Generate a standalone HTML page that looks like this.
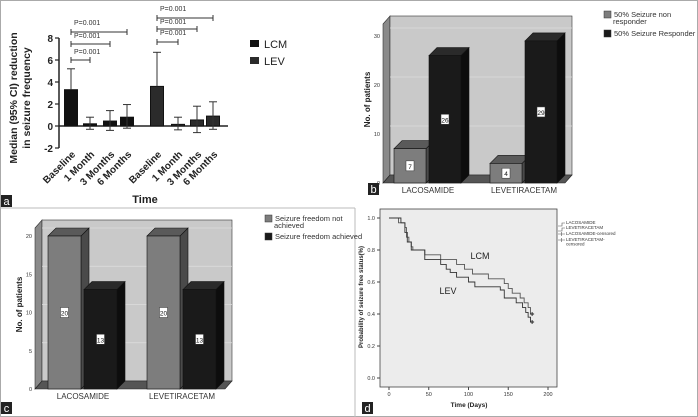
<!DOCTYPE html>
<html><head><meta charset="utf-8"><style>
body{margin:0;background:#fff}
svg{display:block;font-family:"Liberation Sans",sans-serif}
</style></head><body>
<svg id="fig" width="698" height="417" viewBox="0 0 698 417"></svg>
<script>
// Panel a data
const aCats=["Baseline","1 Month","3 Months","6 Months"];
const aLCM=[3.3,0.2,0.45,0.8];
const aLCMhi=[5.2,0.8,1.4,1.95];
const aLCMlo=[3.3,-0.3,-0.4,-0.2];
const aLEV=[3.6,0.15,0.55,0.9];
const aLEVhi=[6.7,0.8,1.8,2.2];
const aLEVlo=[3.6,-0.35,-0.6,-0.3];
const aTicks=[-2,0,2,4,6,8];
// Panel b data
const bCats=["LACOSAMIDE","LEVETIRACETAM"];
const bNon=[7,4];
const bResp=[26,29];
const bTicks=[0,10,20,30];
// Panel c data
const cCats=["LACOSAMIDE","LEVETIRACETAM"];
const cNot=[20,20];
const cAch=[13,13];
const cTicks=[0,5,10,15,20];
// Panel d data
const dLCMt=[0,12,20,22,25,28,30,45,65,85,95,105,125,145,150,155,165,170,175,178];
const dLCMv=[1.0,0.97,0.94,0.88,0.85,0.82,0.80,0.77,0.74,0.71,0.68,0.65,0.62,0.59,0.56,0.53,0.50,0.47,0.44,0.40];
const dLEVt=[0,15,20,23,28,45,65,72,77,85,100,108,140,145,160,168,172,175,178];
const dLEVv=[1.0,0.97,0.91,0.85,0.80,0.74,0.71,0.68,0.66,0.63,0.60,0.57,0.55,0.50,0.47,0.44,0.41,0.38,0.35];
const dXTicks=[0,50,100,150,200];
const dYTicks=[0.0,0.2,0.4,0.6,0.8,1.0];

const NS="http://www.w3.org/2000/svg";
const svg=document.getElementById('fig');
function mk(tag,attrs,parent,text){const e=document.createElementNS(NS,tag);for(const k in attrs)e.setAttribute(k,attrs[k]);if(text!==undefined)e.textContent=text;(parent||svg).appendChild(e);return e;}

let fr=mk('rect',{x:0.5,y:0.5,width:697,height:416,fill:'none',stroke:'#aaa'});


let hl=mk('line',{x1:0,y1:208,x2:355,y2:208,stroke:'#bbb'});


let vl=mk('line',{x1:355,y1:208,x2:355,y2:417,stroke:'#bbb'});



function panelLabel(x,y,t){
  const g=mk('g',{});
  
  
  mk('rect',{x:x,y:y,width:11,height:12,fill:'#222'},g);
  mk('text',{x:x+5.5,y:y+10,'font-size':11,fill:'#fff','text-anchor':'middle'},g,t);
}

// ===== Panel a =====
(function(){
  const g=mk('g',{});
  
  
  const y=v=>126-v*11;
  const x0=59;
  mk('line',{x1:x0,y1:y(-2),x2:x0,y2:y(8),stroke:'#222','stroke-width':1.5},g);
  mk('line',{x1:x0,y1:y(0),x2:228,y2:y(0),stroke:'#222','stroke-width':1.5},g);
  aTicks.forEach(t=>{
    mk('line',{x1:x0-4,y1:y(t),x2:x0,y2:y(t),stroke:'#222','stroke-width':1.2},g);
    const tx=mk('text',{x:x0-6,y:y(t)+4,'font-size':10,'font-weight':'bold','text-anchor':'end',fill:'#222'},g,t);
    
    
  });
  const xs1=[71,90,110,127], xs2=[157,178,197,213];
  function series(xs,vals,hi,lo,col,nm){
    xs.forEach((cx,i)=>{
      const top=y(Math.max(vals[i],0)),bot=y(Math.min(vals[i],0));
      const b=mk('rect',{x:cx-6.5,y:top,width:13,height:Math.max(bot-top,1.5),fill:col,stroke:'#111','stroke-width':1},g);
      
      
      mk('line',{x1:cx,y1:y(hi[i]),x2:cx,y2:y(lo[i]),stroke:'#333','stroke-width':1},g);
      mk('line',{x1:cx-4,y1:y(hi[i]),x2:cx+4,y2:y(hi[i]),stroke:'#333','stroke-width':1},g);
      if(lo[i]<vals[i]) mk('line',{x1:cx-4,y1:y(lo[i]),x2:cx+4,y2:y(lo[i]),stroke:'#333','stroke-width':1},g);
      const l=mk('text',{x:0,y:0,'font-size':10,'font-weight':'bold','text-anchor':'end',fill:'#222',transform:`translate(${cx+5},${155}) rotate(-45)`},g,aCats[i]);
      
      
    });
  }
  series(xs1,aLCM,aLCMhi,aLCMlo,'#111','lcm');
  series(xs2,aLEV,aLEVhi,aLEVlo,'#2b2b2b','lev');
  const br=[[xs1[0],xs1[1],60,51],[xs1[0],xs1[2],44,35],[xs1[0],xs1[3],32,22],[xs2[0],xs2[1],42,32],[xs2[0],xs2[2],29,21],[xs2[0],xs2[3],18,8]];
  br.forEach(b=>{
    const bg=mk('g',{},g);
    
    
    mk('path',{d:`M${b[0]},${b[2]-3}V${b[2]+3}M${b[0]},${b[2]}H${b[1]}M${b[1]},${b[2]-3}V${b[2]+3}`,stroke:'#333',fill:'none'},bg);
    mk('text',{x:b[0]+3,y:b[3]+3,'font-size':7,fill:'#333'},bg,'P=0.001');
  });
  const yt=mk('text',{x:0,y:0,'font-size':10.5,'font-weight':'bold','text-anchor':'middle',fill:'#222',transform:'translate(17,98) rotate(-90)'},g);
  
  
  mk('tspan',{x:0,dy:0},yt,'Median (95% CI) reduction');
  mk('tspan',{x:0,dy:13},yt,'in seizure frequency');
  const xt=mk('text',{x:145,y:203,'font-size':11,'font-weight':'bold','text-anchor':'middle',fill:'#222'},g,'Time');
  
  
  [['LCM',44,'#111'],['LEV',61,'#2b2b2b']].forEach(l=>{
    const lg=mk('g',{},g);
    
    
    mk('rect',{x:250,y:l[1]-4,width:9,height:7,fill:l[2]},lg);
    mk('text',{x:264,y:l[1]+4,'font-size':11,fill:'#222'},lg,l[0]);
  });
})();
panelLabel(1,195,'a');

// ===== 3D bar panels =====
function bar3d(g,x,w,top,bot,col,topcol,sidecol,label,nm){
  const d=8;
  const bg=mk('g',{},g);
  
  
  mk('polygon',{points:`${x+w},${top} ${x+w+d},${top-d} ${x+w+d},${bot-d} ${x+w},${bot}`,fill:sidecol,stroke:'#111','stroke-width':0.6},bg);
  mk('polygon',{points:`${x},${top} ${x+d},${top-d} ${x+w+d},${top-d} ${x+w},${top}`,fill:topcol,stroke:'#111','stroke-width':0.6},bg);
  mk('rect',{x:x,y:top,width:w,height:bot-top,fill:col,stroke:'#111','stroke-width':0.6},bg);
  const cy=(top+bot)/2;
  mk('rect',{x:x+w/2-4,y:cy-5,width:8,height:10,fill:'#fff',stroke:'#333','stroke-width':0.5},bg);
  mk('text',{x:x+w/2,y:cy+3,'font-size':6.5,'text-anchor':'middle',fill:'#111'},bg,label);
}
function panel3d(o){
  const g=mk('g',{});
  
  
  const y=v=>o.y0-v*o.k;
  mk('polygon',{points:`${o.wx-7},${o.wt+8} ${o.wx},${o.wt} ${o.wx},${o.y0-8} ${o.wx-7},${o.y0}`,fill:'#8a8a8a',stroke:'#333','stroke-width':0.6},g);
  const wall=mk('rect',{x:o.wx,y:o.wt,width:o.wr-o.wx,height:o.y0-8-o.wt,fill:'#c9c9c9',stroke:'#333','stroke-width':0.6},g);
  
  
  o.ticks.forEach(t=>{
    if(t>0) mk('line',{x1:o.wx,y1:y(t)-8,x2:o.wr,y2:y(t)-8,stroke:'#ddd','stroke-width':0.8},g);
    const tl=mk('text',{x:o.wx-10,y:y(t)+2,'font-size':5.5,'text-anchor':'end',fill:'#333'},g,t);
    
    
  });
  mk('polygon',{points:`${o.wx-7},${o.y0} ${o.wx},${o.y0-8} ${o.wr},${o.y0-8} ${o.wr-7},${o.y0}`,fill:'#555',stroke:'#222','stroke-width':0.6},g);
  o.cats.forEach((c,i)=>{
    bar3d(g,o.bx[i],o.bw,y(o.s1[i]),o.y0,'#7d7d7d','#5a5a5a','#4a4a4a',o.s1[i],'bar-'+o.n1+'-'+i);
    bar3d(g,o.bx[i]+o.bw+3,o.bw,y(o.s2[i]),o.y0,'#1a1a1a','#2a2a2a','#0d0d0d',o.s2[i],'bar-'+o.n2+'-'+i);
    const cl=mk('text',{x:o.bx[i]+o.bw+2,y:o.y0+10,'font-size':8,'text-anchor':'middle',fill:'#333'},g,c);
    
    
  });
  const yt=mk('text',{x:0,y:0,'font-size':8,'font-weight':'bold','text-anchor':'middle',fill:'#222',transform:`translate(${o.wx-20},${(o.wt+o.y0)/2}) rotate(-90)`},g,'No. of patients');
  
  
  o.legend.forEach((l,i)=>{
    const lg=mk('g',{},g);
    
    
    mk('rect',{x:o.lx,y:o.ly[i]-5,width:7,height:7,fill:i?'#1a1a1a':'#7d7d7d',stroke:'#333','stroke-width':0.5},lg);
    const t=mk('text',{x:o.lx+10,y:o.ly[i]+1,'font-size':7.5,fill:'#333'},lg);
    l.forEach((s,j)=>mk('tspan',{x:o.lx+10+(j?-1:0),dy:j?7:0},t,s));
  });
}
panel3d({name:'panel-b-responder-chart',wx:390,wr:572,wt:16,y0:183,k:4.9,ticks:bTicks,cats:bCats,s1:bNon,s2:bResp,bx:[394,490],bw:32,n1:'non-responder',n2:'responder',lx:604,ly:[16,35],legend:[[' 50% Seizure non','responder'],[' 50% Seizure Responder']]});
panelLabel(368,183,'b');
panel3d({name:'panel-c-seizure-freedom-chart',wx:42,wr:232,wt:220,y0:389,k:7.65,ticks:cTicks,cats:cCats,s1:cNot,s2:cAch,bx:[48,147],bw:33,n1:'not-achieved',n2:'achieved',lx:265,ly:[220,238],legend:[['Seizure freedom not','achieved'],['Seizure freedom achieved']]});
panelLabel(1,402,'c');

// ===== Panel d =====
(function(){
  const g=mk('g',{});
  
  
  const X=t=>389+t*0.795, Y=v=>378-v*160;
  const pa=mk('rect',{x:380,y:209,width:177,height:178,fill:'#ececec',stroke:'#444','stroke-width':0.8},g);
  
  
  dXTicks.forEach(t=>{
    mk('line',{x1:X(t),y1:387,x2:X(t),y2:390,stroke:'#444'},g);
    const l=mk('text',{x:X(t),y:396,'font-size':5.5,'text-anchor':'middle',fill:'#333'},g,t);
    
    
  });
  dYTicks.forEach(t=>{
    mk('line',{x1:377,y1:Y(t),x2:380,y2:Y(t),stroke:'#444'},g);
    const l=mk('text',{x:375,y:Y(t)+2,'font-size':5.5,'text-anchor':'end',fill:'#333'},g,t.toFixed(1));
    
    
  });
  function step(ts,vs,end,nm,col){
    let d=`M${X(ts[0])},${Y(vs[0])}`;
    for(let i=1;i<ts.length;i++) d+=`H${X(ts[i])}V${Y(vs[i])}`;
    d+=`H${X(end)}`;
    const p=mk('path',{d:d,fill:'none',stroke:col,'stroke-width':0.9},g);
    
    
    const v=vs[vs.length-1];
    mk('path',{d:`M${X(end)-2},${Y(v)}h4M${X(end)},${Y(v)-2}v4`,stroke:'#222','stroke-width':0.9},g);
  }
  step(dLCMt,dLCMv,180,'lcm','#555');
  step(dLEVt,dLEVv,180,'lev','#333');
  const t1=mk('text',{x:480,y:259,'font-size':9,'text-anchor':'middle',fill:'#222'},g,'LCM');
  
  
  const t2=mk('text',{x:448,y:294,'font-size':9,'text-anchor':'middle',fill:'#222'},g,'LEV');
  
  
  const xt=mk('text',{x:469,y:407,'font-size':6.5,'font-weight':'bold','text-anchor':'middle',fill:'#222'},g,'Time (Days)');
  
  
  const yt=mk('text',{x:0,y:0,'font-size':6,'font-weight':'bold','text-anchor':'middle',fill:'#222',transform:'translate(363,297) rotate(-90)'},g,'Probability of seizure free status(%)');
  
  
  const leg=[['LACOSAMIDE'],['LEVETIRACETAM'],['LACOSAMIDE-censored'],['LEVETIRACETAM-','censored']];
  const ly=[224,229,235,241];
  leg.forEach((l,i)=>{
    const lg=mk('g',{},g);
    
    
    if(i<2) mk('path',{d:`M558,${ly[i]+2}h4v-3h3`,fill:'none',stroke:'#555','stroke-width':0.6},lg);
    else mk('path',{d:`M558,${ly[i]-1}h7M561.5,${ly[i]-3}v4`,stroke:'#555','stroke-width':0.6},lg);
    const t=mk('text',{x:566,y:ly[i],'font-size':4.5,fill:'#333'},lg);
    l.forEach((s,j)=>mk('tspan',{x:566,dy:j?4.5:0},t,s));
  });
})();
panelLabel(362,402,'d');
</script>
</body></html>
